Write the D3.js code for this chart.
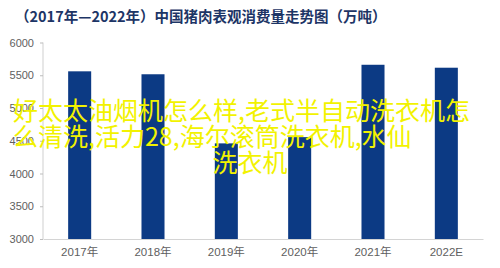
<!DOCTYPE html>
<html>
<head>
<meta charset="utf-8">
<script src="https://cdn.jsdelivr.net/npm/d3@7"></script>
<style>
  html, body { margin: 0; padding: 0; background: #fff; }
  svg { display: block; }
</style>
</head>
<body>
<svg id="chart"></svg>
<script>
// Pork consumption bar chart, 2017-2022E (万吨)

const WIDTH = 500;
const HEIGHT = 268;

const years = ["2017年", "2018年", "2019年", "2020年", "2021年", "2022E"];
const consumption = [5560, 5515, 4460, 4555, 5660, 5615];
const yTicks = [3000, 3500, 4000, 4500, 5000, 5500, 6000];

const titleText = "（2017年—2022年）中国猪肉表观消费量走势图（万吨）";
const overlayLines = [
    "好太太油烟机怎么样,老式半自动洗衣机怎",
    "么清洗,活力28,海尔滚筒洗衣机,水仙",
    "洗衣机"
];

const CJK = "'Noto Sans CJK SC', 'Liberation Sans', sans-serif";
const LATIN = "'Liberation Sans', 'Noto Sans CJK SC', sans-serif";

const svg = d3.select("#chart")
    .attr("width", WIDTH)
    .attr("height", HEIGHT);

const x = d3.scaleBand()
    .domain(years)
    .range([43, 483])
    .paddingInner(0.686)
    .paddingOuter(0.343);

const y = d3.scaleLinear()
    .domain([3000, 6000])
    .range([239, 42.5]);

// title
svg.append("text")
    .attr("x", 15)
    .attr("y", 22)
    .attr("font-family", CJK)
    .attr("font-size", "14.5px")
    .attr("font-weight", "bold")
    .attr("fill", "#1d3566")
    .text(titleText);

// y axis
const yAxis = svg.append("g")
    .attr("transform", "translate(43,0)")
    .call(d3.axisLeft(y).tickValues(yTicks).tickSize(3).tickPadding(6).tickFormat(d3.format("d")));
yAxis.select(".domain").attr("stroke", "#cfcfcf").attr("d", `M0,${y(6000)}V${y(3000)}`);
yAxis.selectAll(".tick line").attr("stroke", "#bdbdbd");
yAxis.selectAll(".tick text")
    .attr("font-family", LATIN)
    .attr("font-size", "11px")
    .attr("fill", "#606060");

// x baseline + labels
const xAxis = svg.append("g")
    .attr("transform", `translate(0,${y(3000)})`)
    .call(d3.axisBottom(x).tickSize(0).tickPadding(9));
xAxis.select(".domain").attr("stroke", "#d4d4d4");
xAxis.selectAll(".tick text")
    .attr("font-family", LATIN)
    .attr("font-size", "11.5px")
    .attr("fill", "#606060");

// bars
svg.append("g")
    .selectAll("rect")
    .data(consumption)
    .join("rect")
    .attr("x", (d, i) => x(years[i]))
    .attr("y", d => y(d))
    .attr("width", x.bandwidth())
    .attr("height", d => y(3000) - y(d))
    .attr("fill", "#0c3a84");

// overlay caption text
const lineX = [13, 13, 250];
const lineAnchor = ["start", "start", "middle"];
svg.append("g")
    .selectAll("text")
    .data(overlayLines)
    .join("text")
    .attr("x", (d, i) => lineX[i])
    .attr("y", (d, i) => 120 + i * 26)
    .attr("text-anchor", (d, i) => lineAnchor[i])
    .attr("font-family", CJK)
    .attr("font-size", "25px")
    .attr("fill", "#f2f200")
    .text(d => d);
</script>
</body>
</html>
